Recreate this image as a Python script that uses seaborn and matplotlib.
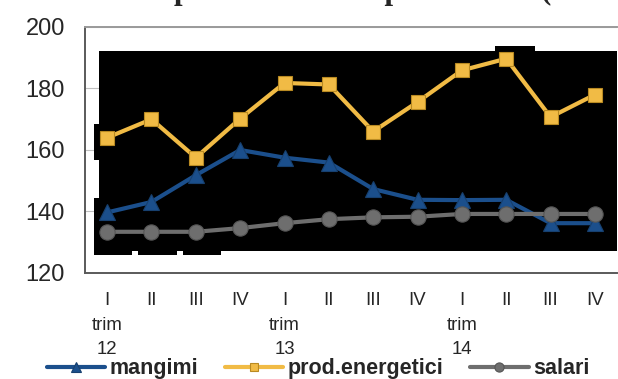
import numpy as np
import pandas as pd
import matplotlib
matplotlib.use("Agg")
import matplotlib.pyplot as plt
from matplotlib.patches import Rectangle
import seaborn as sns

# data
quarters = ["I\ntrim\n12", "II", "III", "IV",
            "I\ntrim\n13", "II", "III", "IV",
            "I\ntrim\n14", "II", "III", "IV"]
mangimi = [139.7, 143.1, 151.8, 160.0, 157.5, 155.9, 147.3, 143.8, 143.7, 143.8, 136.2, 136.2]
prod_energetici = [164.0, 170.0, 157.5, 170.2, 181.8, 181.3, 166.0, 175.6, 185.9, 189.7, 170.7, 178.0]
salari = [133.4, 133.4, 133.4, 134.6, 136.2, 137.5, 138.1, 138.3, 139.2, 139.2, 139.2, 139.2]

sns.set_style("white")
plt.rcParams["font.family"] = ["Liberation Sans", "DejaVu Sans"]

fig = plt.figure(figsize=(6.18, 3.79), dpi=100)
ax = fig.add_axes([0.1375, 0.2797, 0.861, 0.6491])

pos = np.arange(len(quarters))
df = pd.DataFrame({"pos": pos, "mangimi": mangimi,
                   "prod.energetici": prod_energetici, "salari": salari})

# gridlines first, then the black blocks seen in the reference
ax.yaxis.grid(True, color="#bfbfbf", lw=0.8, zorder=0)
ax.set_axisbelow(True)
blocks = [(-0.18, 127.2, 11.8, 65.1), (-0.30, 156.6, 0.2, 11.7),
          (-0.30, 126.2, 0.2, 18.1), (-0.30, 125.9, 0.86, 1.5),
          (0.70, 125.9, 0.88, 1.5), (1.71, 125.9, 0.86, 1.5),
          (8.75, 190.0, 0.89, 3.9)]
for x0, y0, w, h in blocks:
    ax.add_patch(Rectangle((x0, y0), w, h, color="black", zorder=1, lw=0))

styles = [("mangimi", "#1b4f8c", "#17406f", "^", 11),
          ("prod.energetici", "#f1bb45", "#b98a22", "s", 10.5),
          ("salari", "#6e6e6e", "#555555", "o", 11)]
handles = []
for name, col, ecol, mk, ms in styles:
    sns.lineplot(data=df, x="pos", y=name, ax=ax, color=col, lw=3,
                 marker=mk, markersize=ms, markeredgecolor=ecol,
                 markeredgewidth=0.8, zorder=3, label=name, legend=False)
    handles.append(ax.lines[-1])

ax.set_xlim(-0.5, 11.5)
ax.set_ylim(120, 200)
ax.set_yticks([120, 140, 160, 180, 200])
ax.set_xticks(pos)
ax.set_xticklabels(quarters, linespacing=1.55, va="top")
ax.set_xticks(np.arange(-0.5, 12, 1), minor=True)
ax.tick_params(axis="x", which="major", length=0, pad=14, labelsize=13.4)
ax.tick_params(axis="x", which="minor", length=5, width=1, color="#404040", direction="out")
ax.tick_params(axis="y", length=4.3, width=1, color="#404040", direction="out", labelsize=17, pad=10)
ax.set_xlabel("")
ax.set_ylabel("")

for s in ["left", "bottom"]:
    ax.spines[s].set_color("#5a5a5a")
    ax.spines[s].set_linewidth(1.4)
ax.spines["top"].set_color("#9a9a9a")
ax.spines["top"].set_linewidth(1.4)
ax.spines["right"].set_visible(False)

# title, cut off at the top edge as in the reference
fig.text(0.068, 1.003, "Indici dei prezzi e costi di produzione (2010=100)",
         ha="left", va="baseline", fontsize=22.2, fontweight="bold",
         family="Liberation Serif")

leg = fig.legend(handles=handles, labels=["mangimi", "prod.energetici", "salari"],
                 loc="center", bbox_to_anchor=(0.515, 0.027), ncol=3,
                 frameon=False, handlelength=2.7, columnspacing=1.25,
                 handletextpad=0.2, prop={"weight": "bold", "size": 15.5},
                 markerscale=0.6)

fig.savefig("out.png", dpi=100)
